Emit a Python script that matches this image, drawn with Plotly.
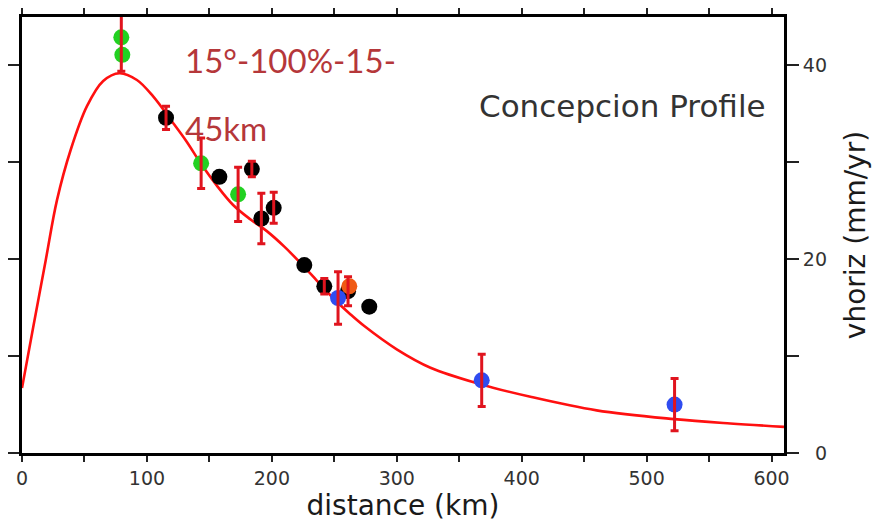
import plotly.graph_objects as go

# ---- data ----
curve_x = [0, 9, 19, 28, 39, 52, 65, 78, 92, 105, 119, 132, 143, 156, 169, 183, 196,
           210, 223, 236, 249, 263, 274, 300, 327, 367, 407, 460, 522, 567, 610]
curve_y = [6.7, 13.0, 19.9, 26.1, 31.3, 35.8, 38.4, 39.2, 38.5, 36.8, 34.4, 32.1, 29.9,
           27.6, 25.6, 24.1, 22.9, 21.3, 19.6, 17.8, 16.0, 14.3, 13.1, 10.7, 8.8, 7.1,
           5.8, 4.4, 3.5, 3.05, 2.7]

black_x = [115.3, 158, 184, 191.6, 201.5, 226, 242, 261, 278]
black_y = [34.6, 28.5, 29.3, 24.2, 25.3, 19.4, 17.2, 16.7, 15.1]
black_err = [1.2, None, 0.8, 2.6, 1.6, None, 0.8, 1.5, None]

green_x = [79.5, 80.3, 143.4, 173]
green_y = [42.9, 41.1, 29.9, 26.7]
green_err = [3.5, None, 2.6, 2.8]

orange_x = [262]
orange_y = [17.2]
orange_err = [None]

blue_x = [253, 368, 522.4]
blue_y = [16.0, 7.5, 5.0]
blue_err = [2.7, 2.7, 2.7]

x_ticks = [0, 50, 100, 150, 200, 250, 300, 350, 400, 450, 500, 550, 600]
x_tick_text = ["0", "", "100", "", "200", "", "300", "", "400", "", "500", "", "600"]
y_ticks = [0, 10, 20, 30, 40]
y_tick_text = ["\u20070", "", "20", "", "40"]

groups = [
    (black_x, black_y, black_err, "#000000"),
    (green_x, green_y, green_err, "#22d122"),
    (orange_x, orange_y, orange_err, "#f05a14"),
    (blue_x, blue_y, blue_err, "#2f4cf0"),
]

fig = go.Figure()

fig.add_trace(go.Scatter(x=curve_x, y=curve_y, mode="lines",
                         line=dict(color="#ff1010", width=2.6, shape="spline", smoothing=1.0),
                         hoverinfo="skip", showlegend=False))

for gx, gy, _, col in groups:
    fig.add_trace(go.Scatter(x=gx, y=gy, mode="markers",
                             marker=dict(color=col, size=16, line=dict(width=0)),
                             showlegend=False))

# error bars drawn on top of the markers (only points that have one)
ex, ey, ee = [], [], []
for gx, gy, ge, _ in groups:
    for a, b, e in zip(gx, gy, ge):
        if e is not None:
            ex.append(a)
            ey.append(b)
            ee.append(e)
fig.add_trace(go.Scatter(x=ex, y=ey, mode="markers",
                         marker=dict(size=1, color="rgba(0,0,0,0)"),
                         error_y=dict(type="data", array=ee, visible=True,
                                      color="#e0141e", thickness=3, width=4),
                         hoverinfo="skip", showlegend=False))

axis_font = dict(family="DejaVu Sans", size=19, color="#333333")

fig.update_layout(
    width=889, height=522,
    margin=dict(l=14, r=113, t=9, b=77),
    paper_bgcolor="white", plot_bgcolor="white",
    showlegend=False,
    xaxis=dict(range=[0, 610], tickvals=x_ticks, ticktext=x_tick_text,
               ticks="outside", ticklen=6, tickwidth=1.5, tickcolor="#222",
               showline=True, linecolor="black", linewidth=3, mirror="allticks",
               showgrid=False, zeroline=False, tickfont=axis_font, automargin=False,
               title=dict(text="distance (km)", standoff=0,
                          font=dict(family="DejaVu Sans", size=28, color="#1a1a1a"))),
    yaxis=dict(range=[0, 45], side="right", tickvals=y_ticks, ticktext=y_tick_text,
               ticks="outside", ticklen=12, tickwidth=1.5, tickcolor="#222",
               showline=True, linecolor="black", linewidth=3, mirror="allticks",
               showgrid=False, zeroline=False, tickfont=axis_font, automargin=False,
               title=dict(text="vhoriz (mm/yr)", standoff=20,
                          font=dict(family="DejaVu Sans", size=28, color="#1a1a1a"))),
    annotations=[
        dict(x=597, y=35.8, xref="x", yref="y", text="Concepcion Profile",
             showarrow=False, xanchor="right", yanchor="middle",
             font=dict(family="DejaVu Sans", size=31, color="#333333")),
        dict(x=129, y=40.6, xref="x", yref="y", text="15°-100%-15-",
             showarrow=False, xanchor="left", yanchor="middle",
             font=dict(family="Lato", size=33, color="#b5373a")),
        dict(x=129, y=33.5, xref="x", yref="y", text="45km",
             showarrow=False, xanchor="left", yanchor="middle",
             font=dict(family="Lato", size=33, color="#b5373a")),
    ],
)

fig.write_html("out.html")
